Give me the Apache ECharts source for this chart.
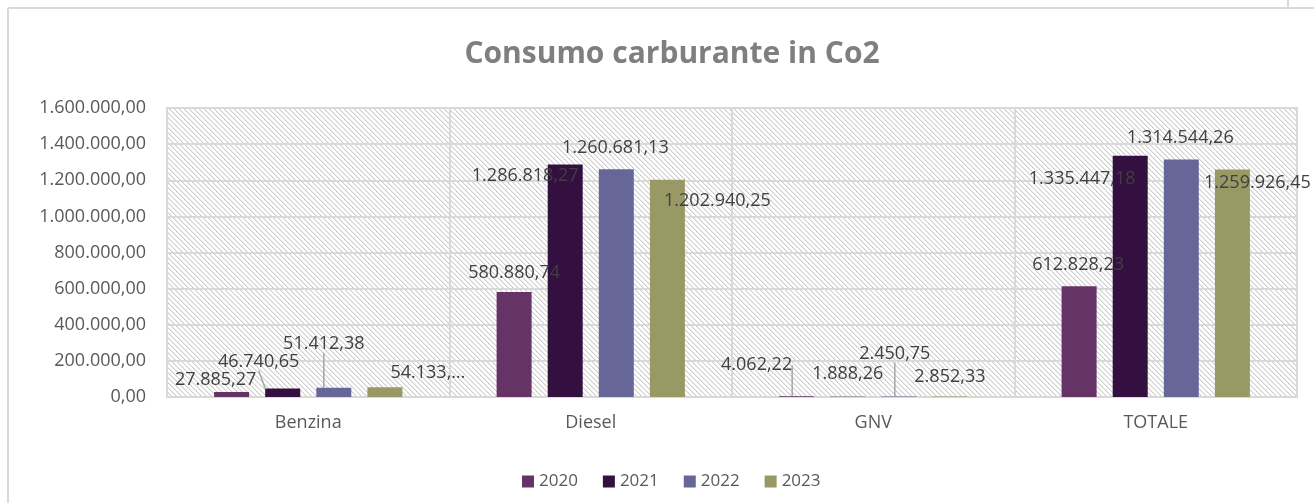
<!DOCTYPE html>
<html>
<head>
<meta charset="utf-8">
<title>Consumo carburante in Co2</title>
<script src="https://cdn.jsdelivr.net/npm/echarts@6/dist/echarts.min.js"></script>
<style>
  html, body { margin: 0; padding: 0; background: #fff; }
  #chart { width: 1314px; height: 503px; }
</style>
</head>
<body>
<div id="chart"></div>
<script>
// dati
const categories = ['Benzina', 'Diesel', 'GNV', 'TOTALE']
const years = ['2020', '2021', '2022', '2023']
const values2020 = [27885.27, 580880.74, 4062.22, 612828.23]
const values2021 = [46740.65, 1286818.27, 1888.26, 1335447.18]
const values2022 = [51412.38, 1260681.13, 2450.75, 1314544.26]
const values2023 = [54133.0, 1202940.25, 2852.33, 1259926.45]
const yMin = 0
const yMax = 1600000
const yStep = 200000

// etichette spostate come nell'originale (dx, dy) e linee guida
const labelOffsets = [
  [[-16, 2], [0, -5], [-40, -17], [-1, -7]],
  [[-24, -13], [-40, 25], [0, -9], [-48, 37]],
  [[-10, -30], [-1, -7], [-4, -29], [-1, -8]],
  [[43, 0], [50, 35], [0, -6], [25, 27]],
]
const leaderLines = { '1-0': true, '2-0': true, '0-2': true, '2-2': true }
const clippedLabels = { '3-0': '54.133,…' }

const colors = ['#663366', '#33103f', '#666699', '#999966']
const allValues = [values2020, values2021, values2022, values2023]

function formatIt(v) {
  let parts = Number(v).toFixed(2).split('.')
  parts[0] = parts[0].replace(/\B(?=(\d{3})+(?!\d))/g, '.')
  return parts[0] + ',' + parts[1]
}

// tratteggio dello sfondo
function hatchPattern() {
  let c = document.createElement('canvas')
  c.width = 5
  c.height = 5
  let ctx = c.getContext('2d')
  ctx.fillStyle = '#ffffff'
  ctx.fillRect(0, 0, 5, 5)
  for (let i = 0; i < 5; i++) {
    ctx.fillStyle = '#cfcfcf'
    ctx.fillRect(i, i, 1, 1)
    ctx.fillStyle = '#e8e8e8'
    ctx.fillRect((i + 1) % 5, i, 1, 1)
  }
  return c
}

const chart = echarts.init(document.getElementById('chart'), null, { renderer: 'canvas' })

const font = "'Open Sans', sans-serif"

let series = years.map((y, si) => {
  return {
    name: y,
    type: 'bar',
    barWidth: 35,
    barGap: '46%',
    itemStyle: { color: colors[si] },
    label: {
      show: true,
      position: 'top',
      color: '#404040',
      fontFamily: font,
      fontSize: 18,
      formatter: (p) => clippedLabels[p.seriesIndex + '-' + p.dataIndex] || formatIt(p.value),
    },
    labelLayout: (p) => {
      let o = labelOffsets[p.seriesIndex][p.dataIndex]
      return { dx: o[0], dy: o[1] }
    },
    data: allValues[si].map((v, di) => {
      let item = { value: v }
      if (leaderLines[si + '-' + di]) {
        item.labelLine = { show: true, lineStyle: { color: '#a6a6a6', width: 1.5 } }
      }
      return item
    }),
  }
})

let option = {
  animation: false,
  title: {
    text: 'Consumo carburante in Co2',
    left: 667,
    textAlign: 'center',
    top: 34,
    textStyle: {
      color: '#7f7f7f',
      fontFamily: font,
      fontWeight: 'bold',
      fontSize: 30,
    },
  },
  legend: {
    data: years,
    left: 517,
    top: 468,
    icon: 'rect',
    itemWidth: 12,
    itemHeight: 12,
    itemGap: 25,
    textStyle: {
      color: '#595959',
      fontFamily: font,
      fontSize: 17,
    },
  },
  grid: {
    left: 167,
    right: 17,
    top: 108,
    bottom: 106,
    show: true,
    borderColor: '#d9d9d9',
    borderWidth: 2,
    backgroundColor: { image: hatchPattern(), repeat: 'repeat' },
  },
  xAxis: {
    type: 'category',
    data: categories,
    axisTick: { show: false },
    axisLine: { show: true, lineStyle: { color: '#d9d9d9', width: 2 } },
    splitLine: { show: true, interval: 0, lineStyle: { color: '#d9d9d9', width: 2 } },
    axisLabel: {
      color: '#595959',
      fontFamily: font,
      fontSize: 18,
      margin: 17,
    },
  },
  yAxis: {
    type: 'value',
    min: yMin,
    max: yMax,
    interval: yStep,
    axisLine: { show: false },
    axisTick: { show: false },
    splitLine: { show: true, lineStyle: { color: '#d9d9d9', width: 2 } },
    axisLabel: {
      color: '#595959',
      fontFamily: font,
      fontSize: 18,
      margin: 21,
      formatter: (v) => formatIt(v),
    },
  },
  graphic: [
    { type: 'line', shape: { x1: 8, y1: 8, x2: 1314, y2: 8 }, style: { stroke: '#d9d9d9', lineWidth: 2 } },
    { type: 'line', shape: { x1: 8, y1: 8, x2: 8, y2: 503 }, style: { stroke: '#d9d9d9', lineWidth: 2 } },
    { type: 'line', shape: { x1: 1288, y1: 0, x2: 1288, y2: 8 }, style: { stroke: '#d9d9d9', lineWidth: 2 } },
  ],
  series: series,
}

chart.setOption(option)
</script>
</body>
</html>
